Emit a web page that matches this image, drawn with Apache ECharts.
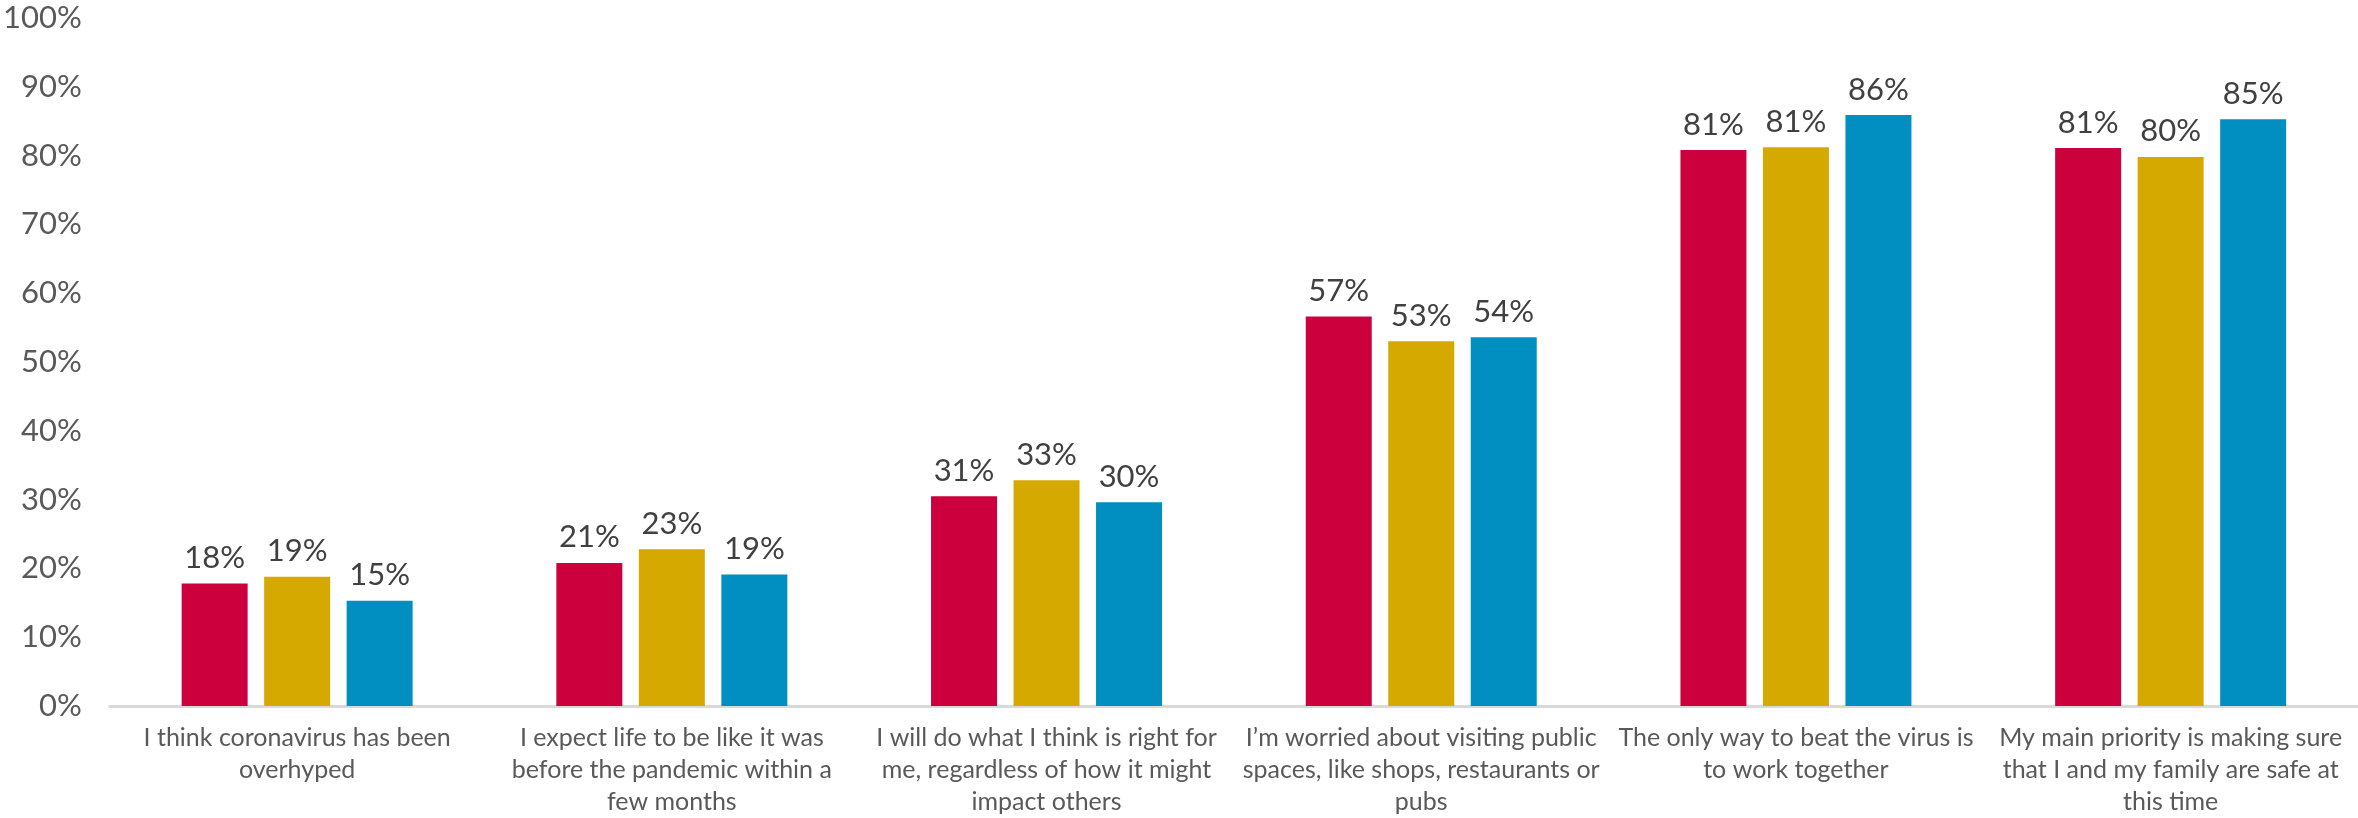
<!DOCTYPE html>
<html>
<head>
<meta charset="utf-8">
<script src="https://cdn.jsdelivr.net/npm/echarts@6/dist/echarts.min.js"></script>
<style>
  html, body { margin: 0; padding: 0; background: #fff; }
  #chart { width: 2358px; height: 818px; }
</style>
</head>
<body>
<div id="chart"></div>
<script>
var categories = [
  'I think coronavirus has been\noverhyped',
  'I expect life to be like it was\nbefore the pandemic within a\nfew months',
  'I will do what I think is right for\nme, regardless of how it might\nimpact others',
  'I\u2019m worried about visiting public\nspaces, like shops, restaurants or\npubs',
  'The only way to beat the virus is\nto work together',
  'My main priority is making sure\nthat I and my family are safe at\nthis time'
];
var redValues = [17.8, 20.8, 30.5, 56.6, 80.8, 81.1];
var yellowValues = [18.8, 22.8, 32.8, 53.0, 81.2, 79.8];
var blueValues = [15.3, 19.1, 29.6, 53.6, 85.9, 85.3];
var colors = ['#cc003d', '#d5a900', '#008fc0'];

var textColor = '#595959';
var font = 'Lato';

function bar(name, data, color) {
  return {
    name: name,
    type: 'bar',
    data: data,
    barWidth: 66,
    barGap: '25%',
    itemStyle: { color: color },
    label: {
      show: true,
      position: 'top',
      distance: 10,
      color: '#404040',
      fontFamily: font,
      fontSize: 31,
      formatter: function (p) { return Math.round(p.value) + '%'; }
    }
  };
}

var myChart = echarts.init(document.getElementById('chart'));
myChart.setOption({
  animation: false,
  grid: { left: 106, right: -5, top: 18, bottom: 106, containLabel: false },
  xAxis: {
    type: 'category',
    data: categories,
    axisLine: { lineStyle: { color: '#d9d9d9', width: 3 } },
    axisTick: { show: false },
    axisLabel: {
      color: textColor,
      fontFamily: font,
      fontSize: 25,
      lineHeight: 32,
      margin: 16,
      interval: 0
    }
  },
  yAxis: {
    type: 'value',
    min: 0,
    max: 100,
    interval: 10,
    splitLine: { show: false },
    axisLine: { show: false },
    axisTick: { show: false },
    axisLabel: {
      color: textColor,
      fontFamily: font,
      fontSize: 31,
      margin: 28,
      formatter: '{value}%'
    }
  },
  series: [
    bar('A', redValues, colors[0]),
    bar('B', yellowValues, colors[1]),
    bar('C', blueValues, colors[2])
  ]
});
</script>
</body>
</html>
